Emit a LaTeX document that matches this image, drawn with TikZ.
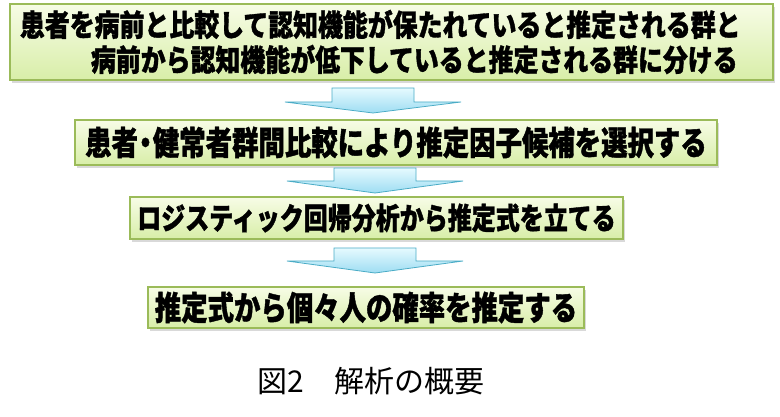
\documentclass[tikz,border=0pt]{standalone}
\usepackage{fontspec}
\newfontfamily\jpb[FakeStretch=0.8, BoldFeatures={FakeBold=1.2}]{Noto Sans CJK JP}
\newfontfamily\jpbw[FakeStretch=0.83, BoldFeatures={FakeBold=1.2}]{Noto Sans CJK JP}
\newfontfamily\jpr{Noto Sans CJK JP}
\usetikzlibrary{shadows}
\definecolor{boxtop}{HTML}{F7FCE6}
\definecolor{boxbot}{HTML}{D8EEA8}
\definecolor{boxline}{HTML}{9BBB59}
\definecolor{arrtop}{HTML}{E6FAFF}
\definecolor{arrbot}{HTML}{9EDDF2}
\definecolor{arrline}{HTML}{4BACC6}
\tikzset{
  stepbox/.style={draw=boxline, line width=1.4pt, top color=boxtop, bottom color=boxbot,
    inner sep=0pt, outer sep=0pt, font=\jpb\bfseries,
    drop shadow={shadow xshift=2pt, shadow yshift=-3pt, opacity=0.25, fill=black!60}},
  downarrow/.style={draw=arrline, line width=0.8pt, top color=arrtop, bottom color=arrbot}
}
\newcommand{\blockarrow}[4]{% center x, shaft top, wing y, tip y
  \shadedraw[downarrow] (#1-41,#2) -- (#1+41,#2) -- (#1+41,#3) -- (#1+88,#3)
    -- (#1,#4) -- (#1-88,#3) -- (#1-41,#3) -- cycle;}
\newcommand{\nakaguro}{\makebox[0.45em][c]{・}}
\begin{document}
\begin{tikzpicture}[x=1pt,y=-1pt]
\useasboundingbox (0,0) rectangle (780,417);
% boxes
\node[stepbox, minimum width=763pt, minimum height=76pt, text width=743pt, align=left,
  font=\jpbw\bfseries\fontsize{30}{35}\selectfont] (b1) at (391.5,42)
  {患者を病前と比較して認知機能が保たれていると推定される群と\\
   \hspace*{71pt}病前から認知機能が低下していると推定される群に分ける};
\node[stepbox, minimum width=642pt, minimum height=45pt,
  font=\jpb\bfseries\fontsize{33}{36}\selectfont] (b2) at (396,142.5)
  {患者\nakaguro 健常者群間比較により推定因子候補を選択する};
\node[stepbox, minimum width=493pt, minimum height=42pt,
  font=\jpb\bfseries\fontsize{30}{34}\selectfont] (b3) at (376.5,218)
  {ロジスティック回帰分析から推定式を立てる};
\node[stepbox, minimum width=436pt, minimum height=41pt,
  font=\jpb\bfseries\fontsize{33}{36}\selectfont] (b4) at (366,307.5)
  {推定式から個々人の確率を推定する};
% arrows
\blockarrow{373}{88}{102}{113}
\blockarrow{375}{168}{181}{193}
\blockarrow{375}{248}{261}{273}
% caption
\node[font=\jpr\fontsize{30}{32}\selectfont, inner sep=0pt] (cap) at (371,381) {図2\hspace{1em}解析の概要};
\end{tikzpicture}
\end{document}
